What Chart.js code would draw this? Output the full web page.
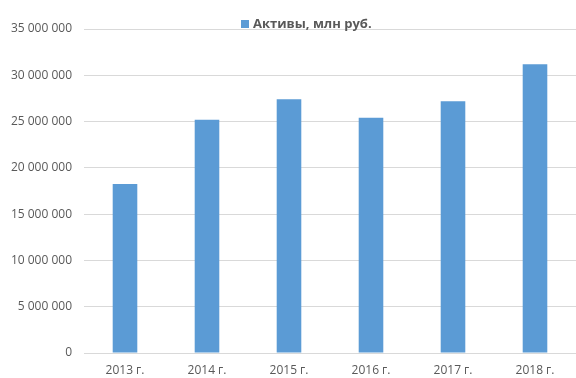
<!DOCTYPE html>
<html>
<head>
<meta charset="utf-8">
<script src="https://cdn.jsdelivr.net/npm/chart.js@4/dist/chart.umd.min.js"></script>
<style>
  html, body { margin: 0; padding: 0; background: #ffffff; }
  #wrap { width: 576px; height: 378px; position: relative; }
</style>
</head>
<body>
<div id="wrap"><canvas id="c" width="576" height="378"></canvas></div>
<script>
const categories = ["2013 г.", "2014 г.", "2015 г.", "2016 г.", "2017 г.", "2018 г."];
const seriesName = "Активы, млн руб.";
const assets = [18250000, 25200000, 27400000, 25400000, 27200000, 31200000];
const yMax = 35000000;
const yStep = 5000000;

const textColor = "#595959";
const barColor = "#5B9BD5";
const gridColor = "#D9D9D9";

function fmt(v) {
  return String(Math.round(v)).replace(/\B(?=(\d{3})+(?!\d))/g, " ");
}

const legendPlugin = {
  id: "customLegend",
  afterDraw(chart) {
    const ctx = chart.ctx;
    const ds = chart.data.datasets[0];
    ctx.save();
    ctx.fillStyle = ds.backgroundColor;
    ctx.fillRect(241, 20, 8, 8);
    ctx.fillStyle = textColor;
    ctx.font = "bold 13px 'Open Sans'";
    ctx.textBaseline = "middle";
    ctx.textAlign = "left";
    ctx.fillText(ds.label, 253, 24);
    ctx.restore();
  }
};

new Chart(document.getElementById("c"), {
  type: "bar",
  data: {
    labels: categories,
    datasets: [{
      label: seriesName,
      data: assets,
      backgroundColor: barColor,
      borderWidth: 0,
      categoryPercentage: 1.0,
      barPercentage: 0.3
    }]
  },
  options: {
    responsive: false,
    animation: false,
    devicePixelRatio: 1,
    layout: { padding: { top: 29, right: 0, bottom: 0, left: 0 } },
    plugins: {
      legend: { display: false },
      tooltip: { enabled: false }
    },
    scales: {
      x: {
        afterFit(scale) { scale.height = 25; },
        grid: { display: false, drawTicks: false },
        border: { display: true, color: gridColor, width: 1 },
        ticks: { color: textColor, font: { family: "'Open Sans'", size: 12 }, padding: 10 }
      },
      y: {
        min: 0,
        max: yMax,
        afterFit(scale) { scale.width = 84; },
        grid: { color: gridColor, drawTicks: false },
        border: { display: false },
        ticks: {
          stepSize: yStep,
          color: textColor,
          font: { family: "'Open Sans'", size: 12 },
          padding: 12,
          callback: (v) => fmt(v)
        }
      }
    }
  },
  plugins: [legendPlugin]
});
</script>
</body>
</html>
